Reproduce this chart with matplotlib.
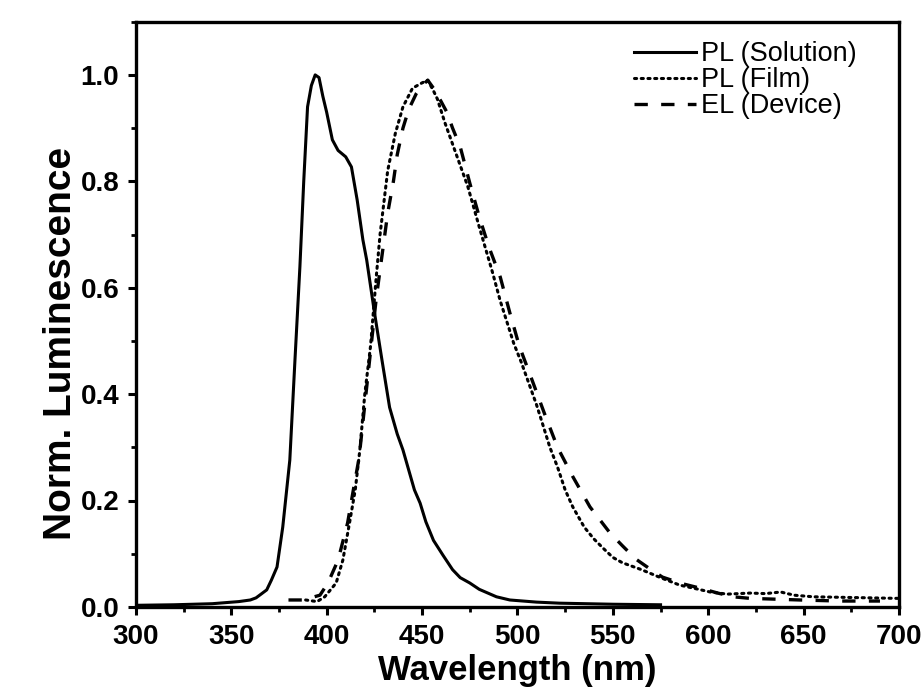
import matplotlib.pyplot as plt
from matplotlib.ticker import MultipleLocator

# PL in solution (solid)
sol_wl = [300, 320, 340, 354, 360, 363, 366, 368.6, 371, 374, 377, 380.7, 383.4, 386,
          388, 390, 392, 394, 396, 398, 400, 403, 406, 410, 413, 416, 419, 421, 425,
          429, 433, 437, 440, 442, 446, 449, 452, 456, 461, 466, 470, 475, 480, 489,
          496, 510, 522, 550, 575]
sol_int = [0.003, 0.004, 0.006, 0.01, 0.013, 0.017, 0.025, 0.032, 0.05, 0.075, 0.15,
           0.276, 0.464, 0.64, 0.8, 0.94, 0.98, 1.0, 0.995, 0.96, 0.93, 0.878, 0.858,
           0.846, 0.827, 0.765, 0.69, 0.652, 0.555, 0.464, 0.375, 0.325, 0.295, 0.27,
           0.22, 0.195, 0.16, 0.125, 0.097, 0.07, 0.055, 0.045, 0.033, 0.019, 0.013,
           0.009, 0.007, 0.005, 0.004]

# PL of film (dotted)
film_wl = [389, 395, 399, 405, 408.5, 412, 415, 417.4, 420, 423, 426, 428, 432, 436,
           440, 445, 450, 453, 456, 458, 462, 466, 470, 474, 480, 487, 491, 495, 498,
           502, 506, 510, 513, 517, 521, 525, 529, 535, 540, 545, 550, 555, 565, 575,
           585, 595, 601, 610, 622, 630, 638, 645, 655, 670, 685, 700]
film_int = [0.013, 0.01, 0.019, 0.045, 0.088, 0.158, 0.22, 0.295, 0.40, 0.49, 0.62,
            0.70, 0.82, 0.89, 0.94, 0.975, 0.985, 0.99, 0.97, 0.955, 0.91, 0.87, 0.83,
            0.79, 0.714, 0.628, 0.575, 0.53, 0.496, 0.46, 0.42, 0.38, 0.346, 0.30,
            0.263, 0.22, 0.188, 0.15, 0.128, 0.11, 0.093, 0.083, 0.07, 0.055, 0.041,
            0.033, 0.028, 0.024, 0.026, 0.025, 0.028, 0.022, 0.019, 0.018, 0.017, 0.016]

# EL of device (dashed)
el_wl = [380, 387.5, 396.5, 400.7, 406, 411, 414, 416, 417, 420, 423, 426, 429, 432,
         435, 437, 440, 443, 447, 450, 453, 456, 460, 463, 466, 470, 475, 480, 485,
         491, 496, 501, 507.6, 514, 521, 529, 538, 548.5, 555, 562, 570, 576, 586,
         596, 605, 613, 622, 631, 648, 669, 690]
el_int = [0.013, 0.013, 0.022, 0.045, 0.088, 0.158, 0.22, 0.26, 0.28, 0.38, 0.48, 0.58,
          0.66, 0.74, 0.80, 0.85, 0.90, 0.935, 0.965, 0.98, 0.99, 0.975, 0.95, 0.93,
          0.9, 0.865, 0.797, 0.733, 0.677, 0.62, 0.553, 0.49, 0.427, 0.365, 0.30,
          0.245, 0.188, 0.139, 0.115, 0.09, 0.07, 0.056, 0.044, 0.035, 0.026, 0.019,
          0.016, 0.015, 0.013, 0.011, 0.011]

plt.rcParams['font.family'] = ['Liberation Sans', 'DejaVu Sans']

fig = plt.figure(figsize=(9.24, 7), dpi=100)
ax = fig.add_axes([0.147, 0.133, 0.826, 0.836])

ax.plot(sol_wl, sol_int, color='black', lw=2.2, label='PL (Solution)')
ax.plot(film_wl, film_int, color='black', lw=2.2, linestyle=(0, (0.7, 1.5)),
        dash_capstyle='round', label='PL (Film)')
ax.plot(el_wl, el_int, color='black', lw=2.4, linestyle=(0, (4, 4)), label='EL (Device)')

ax.set_xlim(300, 700)
ax.set_ylim(0, 1.1)
ax.xaxis.set_major_locator(MultipleLocator(50))
ax.xaxis.set_minor_locator(MultipleLocator(25))
ax.yaxis.set_major_locator(MultipleLocator(0.2))
ax.yaxis.set_minor_locator(MultipleLocator(0.1))
ax.yaxis.set_major_formatter(lambda v, p: f'{v:.1f}')

ax.tick_params(which='major', direction='out', length=6, width=2.2, labelsize=20, pad=6)
ax.tick_params(which='minor', direction='out', length=3.5, width=2)
for lbl in ax.get_xticklabels() + ax.get_yticklabels():
    lbl.set_fontweight('bold')
for sp in ax.spines.values():
    sp.set_linewidth(2.4)

ax.set_xlabel('Wavelength (nm)', fontsize=25, fontweight='bold', labelpad=3)
ax.set_ylabel('Norm. Luminescence', fontsize=28, fontweight='bold')
ax.yaxis.set_label_coords(-0.075, 0.45)

ax.legend(loc='upper right', bbox_to_anchor=(0.958, 0.985), borderaxespad=0,
          frameon=False, fontsize=19.5, handlelength=2.3,
          handletextpad=0.15, labelspacing=0.0)

fig.savefig('out.png', dpi=100)
